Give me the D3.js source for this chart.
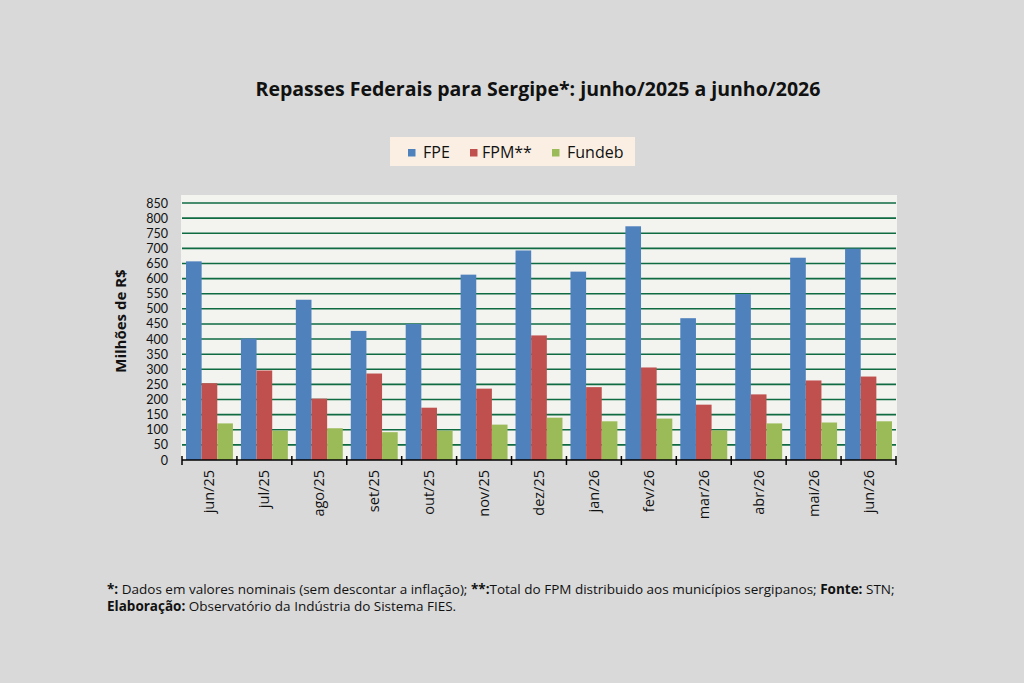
<!DOCTYPE html>
<html>
<head>
<meta charset="utf-8">
<script src="https://cdn.jsdelivr.net/npm/d3@7"></script>
<style>
  html, body { margin: 0; padding: 0; background: #d9d9d9; }
  svg { display: block; font-family: "Open Sans", Lato, sans-serif; }
</style>
</head>
<body>
<svg width="1024" height="683"></svg>
<script>
// meses (rótulos do eixo x)
const months = ["jun/25", "jul/25", "ago/25", "set/25", "out/25", "nov/25", "dez/25",
                "jan/26", "fev/26", "mar/26", "abr/26", "mai/26", "jun/26"];

// valores em milhões de R$
const fpe    = [657, 402, 530, 427, 450, 613, 693, 623, 773, 469, 549, 669, 699];
const fpm    = [254, 296, 203, 286, 173, 236, 412, 241, 306, 183, 217, 263, 276];
const fundeb = [121,  97, 105,  92,  97, 117, 140, 128, 137,  98, 121, 124, 128];

const seriesNames = ["FPE", "FPM**", "Fundeb"];
const seriesColors = ["#4f81bd", "#c0504d", "#9bbb59"];
const yTicks = d3.range(0, 851, 50);

const svg = d3.select("svg");

const plot = {left: 182, right: 896, top: 203, bottom: 460};

const x = d3.scaleBand().domain(months).range([plot.left, plot.right]).paddingInner(0).paddingOuter(0);
const xs = d3.scaleBand().domain(seriesNames).range([4, x.bandwidth() - 4]);
const y = d3.scaleLinear().domain([0, 850]).range([plot.bottom, plot.top]);

// área do gráfico
svg.append("rect")
  .attr("x", plot.left - 1).attr("y", 195)
  .attr("width", plot.right - plot.left + 2).attr("height", plot.bottom - 195)
  .attr("fill", "#f3f3ef");

// linhas de grade
svg.append("g")
  .selectAll("line")
  .data(yTicks.filter(d => d > 0))
  .join("line")
    .attr("x1", plot.left).attr("x2", plot.right)
    .attr("y1", d => y(d)).attr("y2", d => y(d))
    .attr("stroke", "#0f6b42")
    .attr("stroke-width", 1.6);

// barras
const rows = months.map((m, i) => ({month: m, values: [fpe[i], fpm[i], fundeb[i]]}));

svg.append("g")
  .selectAll("g")
  .data(rows)
  .join("g")
    .attr("transform", d => "translate(" + x(d.month) + ",0)")
  .selectAll("rect")
  .data(d => d.values.map((v, j) => ({name: seriesNames[j], value: v, color: seriesColors[j]})))
  .join("rect")
    .attr("x", d => xs(d.name))
    .attr("width", xs.bandwidth())
    .attr("y", d => y(d.value))
    .attr("height", d => y(0) - y(d.value))
    .attr("fill", d => d.color);

// eixo y
const yAxis = svg.append("g")
  .attr("transform", "translate(" + (plot.left - 10) + ",0)")
  .call(d3.axisLeft(y).tickValues(yTicks).tickSize(0).tickPadding(4));
yAxis.select(".domain").remove();
yAxis.selectAll("text")
  .attr("font-size", 12.5)
  .attr("font-family", "Lato, sans-serif")
  .attr("fill", "#111");

// eixo x
const xAxis = svg.append("g")
  .attr("transform", "translate(0," + plot.bottom + ")");
xAxis.append("line")
  .attr("x1", plot.left).attr("x2", plot.right)
  .attr("stroke", "#000").attr("stroke-width", 1.5);
xAxis.selectAll("line.tick")
  .data(months.concat(["end"]))
  .join("line")
    .attr("class", "tick")
    .attr("x1", (d, i) => plot.left + i * x.step())
    .attr("x2", (d, i) => plot.left + i * x.step())
    .attr("y1", -4).attr("y2", 5)
    .attr("stroke", "#000").attr("stroke-width", 1.5);
xAxis.selectAll("text")
  .data(months)
  .join("text")
    .attr("transform", d => "translate(" + (x(d) + x.bandwidth() / 2 + 5) + ",10) rotate(-90)")
    .attr("text-anchor", "end")
    .attr("font-size", 14.5)
    .attr("fill", "#111")
    .text(d => d);

// título do eixo y
svg.append("text")
  .attr("transform", "translate(126,321) rotate(-90)")
  .attr("text-anchor", "middle")
  .attr("font-size", 15)
  .attr("font-weight", "bold")
  .attr("fill", "#111")
  .text("Milhões de R$");

// título
svg.append("text")
  .attr("x", 538).attr("y", 96)
  .attr("text-anchor", "middle")
  .attr("font-size", 19.5)
  .attr("font-weight", "bold")
  .attr("fill", "#111")
  .text("Repasses Federais para Sergipe*: junho/2025 a junho/2026");

// legenda
const legend = svg.append("g");
legend.append("rect")
  .attr("x", 390).attr("y", 137).attr("width", 245).attr("height", 29)
  .attr("fill", "#fbefe3");
const markerX = [408, 470, 552];
const labelX = [423, 482, 567];
seriesNames.forEach((name, i) => {
  legend.append("rect")
    .attr("x", markerX[i]).attr("y", 149).attr("width", 7.5).attr("height", 7.5)
    .attr("fill", seriesColors[i]);
  legend.append("text")
    .attr("x", labelX[i]).attr("y", 158)
    .attr("font-size", 16)
    .attr("fill", "#111")
    .text(name);
});

// notas
const notes = svg.append("g")
  .attr("font-size", 13.5)
  .attr("fill", "#111");
const line1 = notes.append("text").attr("x", 107).attr("y", 594);
line1.append("tspan").attr("font-weight", "bold").text("*:");
line1.append("tspan").text(" Dados em valores nominais (sem descontar a inflação); ");
line1.append("tspan").attr("font-weight", "bold").text("**:");
line1.append("tspan").text("Total do FPM distribuido aos municípios sergipanos; ");
line1.append("tspan").attr("font-weight", "bold").text("Fonte:");
line1.append("tspan").text(" STN;");
const line2 = notes.append("text").attr("x", 107).attr("y", 611);
line2.append("tspan").attr("font-weight", "bold").text("Elaboração:");
line2.append("tspan").text(" Observatório da Indústria do Sistema FIES.");
</script>
</body>
</html>
